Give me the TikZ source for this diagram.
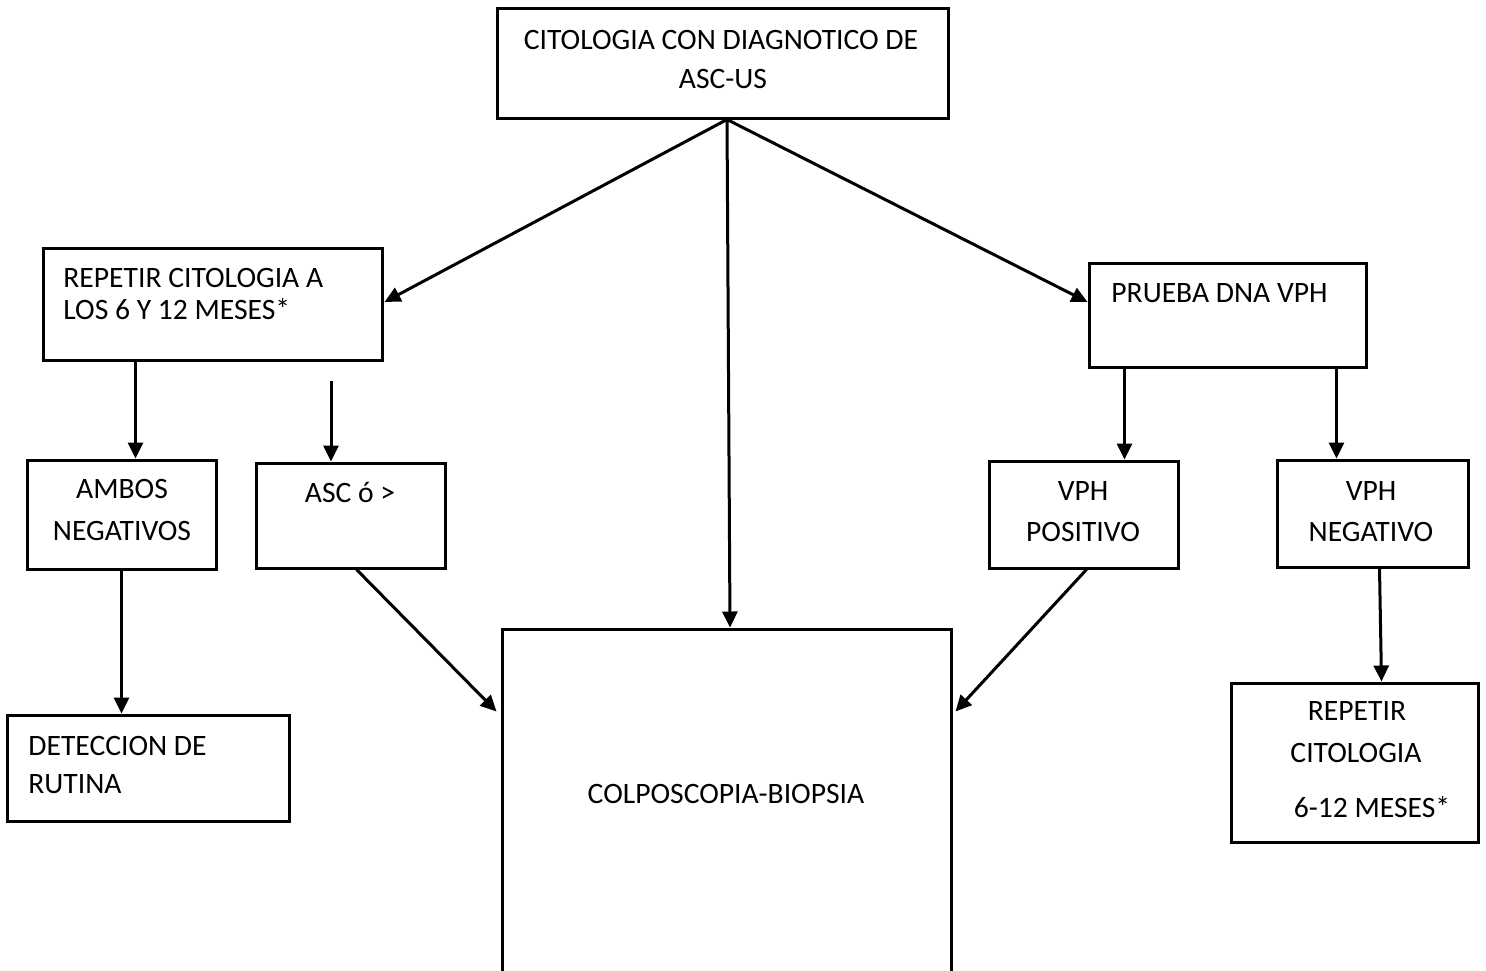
\documentclass[tikz,border=0pt]{standalone}
\usepackage{fontspec}
\setmainfont{Carlito}
\usetikzlibrary{arrows.meta,fit,calc}
\begin{document}
\begin{tikzpicture}[x=0.5pt,y=-0.5pt,
  box/.style={draw, line width=1.5pt, inner sep=0pt},
  txt/.style={inner sep=0pt, font=\fontsize{14.8}{17}\selectfont},
  arr/.style={line width=1.5pt, -{Triangle[length=8pt,width=7.5pt]}}]
\useasboundingbox (0,0) rectangle (1486,970);
\clip (0,0) rectangle (1486,970);
\fill[white] (0,0) rectangle (1486,970);
% boxes
\node[box, fit={(497,8) (948,118)}] (top) {};
\node[box, fit={(43,248) (382,360)}] (rep) {};
\node[box, fit={(1089,263) (1366,367)}] (prueba) {};
\node[box, fit={(27,460) (216,569)}] (ambos) {};
\node[box, fit={(256,463) (445,568)}] (asc) {};
\node[box, fit={(989,461) (1178,568)}] (vpos) {};
\node[box, fit={(1277,460) (1468,567)}] (vneg) {};
\node[box, fit={(7,715) (289,821)}] (det) {};
\node[box, fit={(1231,683) (1478,842)}] (rc) {};
\node[box, fit={(502,629) (951,1010)}] (colp) {};
% texts
\node[txt, anchor=base] at (721,49) {CITOLOGIA CON DIAGNOTICO DE};
\node[txt, anchor=base] at (723,88) {ASC-US};
\node[txt, anchor=base west] at (63,287) {REPETIR CITOLOGIA A};
\node[txt, anchor=base west] at (63,319) {LOS 6 Y 12 MESES*};
\node[txt, anchor=base west] at (1111,302) {PRUEBA DNA VPH};
\node[txt, anchor=base] at (122,498) {AMBOS};
\node[txt, anchor=base] at (122,540) {NEGATIVOS};
\node[txt, anchor=base] at (350,502) {ASC ó >};
\node[txt, anchor=base] at (1083,500) {VPH};
\node[txt, anchor=base] at (1083,541) {POSITIVO};
\node[txt, anchor=base] at (1371,500) {VPH};
\node[txt, anchor=base] at (1371,541) {NEGATIVO};
\node[txt, anchor=base west] at (28,755) {DETECCION DE};
\node[txt, anchor=base west] at (28,793) {RUTINA};
\node[txt, anchor=base] at (1357,720) {REPETIR};
\node[txt, anchor=base] at (1356,762) {CITOLOGIA};
\node[txt, anchor=base] at (1372,817) {6-12 MESES*};
\node[txt, anchor=base] at (726,803) {COLPOSCOPIA-BIOPSIA};
% connectors
\coordinate (o) at ($(top.south)+(4.5,0)$);
\draw[arr] (o) -- ($(rep.east)+(1,-2)$);
\draw[arr] (o) -- ($(prueba.west)+(0,-13)$);
\draw[arr] (o) -- ($(colp.north)+(3.5,0)$);
\draw[arr] ($(rep.south west)+(94,0)$) -- ($(ambos.north west)+(110,0)$);
\coordinate (a0) at (331,381);
\draw[arr] (a0) -- (a0 |- asc.north);
\draw[arr] (ambos.south) -- (ambos.south |- det.north);
\draw[arr] ($(asc.south west)+(102,0)$) -- ($(colp.north west)+(-4,84)$);
\draw[arr] ($(prueba.south west)+(37,0)$) -- ($(vpos.north west)+(137,0)$);
\draw[arr] ($(prueba.south west)+(249,0)$) -- ($(vneg.north west)+(61,0)$);
\draw[arr] ($(vpos.south west)+(99,0)$) -- ($(colp.north east)+(3,84)$);
\draw[arr] ($(vneg.south west)+(104,0)$) -- ($(rc.north west)+(152,0)$);
\end{tikzpicture}
\end{document}
